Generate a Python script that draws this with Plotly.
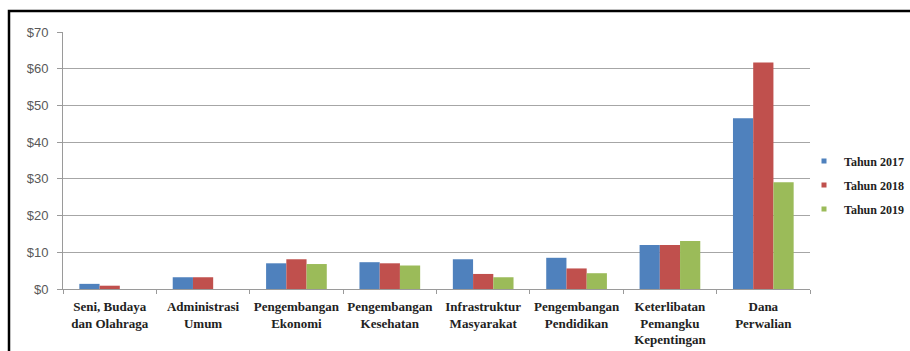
import plotly.graph_objects as go

categories = ["Seni, Budaya<br>dan Olahraga", "Administrasi<br>Umum", "Pengembangan<br>Ekonomi",
              "Pengembangan<br>Kesehatan", "Infrastruktur<br>Masyarakat", "Pengembangan<br>Pendidikan",
              "Keterlibatan<br>Pemangku<br>Kepentingan", "Dana<br>Perwalian"]
tahun_2017 = [1.4, 3.2, 7.0, 7.3, 8.1, 8.5, 12.0, 46.5]
tahun_2018 = [0.9, 3.2, 8.1, 7.0, 4.1, 5.6, 12.0, 61.7]
tahun_2019 = [None, None, 6.8, 6.4, 3.2, 4.3, 13.1, 29.1]
series_names = ["Tahun 2017", "Tahun 2018", "Tahun 2019"]
colors = ["#4F81BD", "#C0504D", "#9BBB59"]
y_ticks = [0, 10, 20, 30, 40, 50, 60, 70]
y_labels = ["$0", "$10", "$20", "$30", "$40", "$50", "$60", "$70"]

fig = go.Figure()
for name, vals, col in zip(series_names, [tahun_2017, tahun_2018, tahun_2019], colors):
    fig.add_trace(go.Bar(x=categories, y=vals, name=name, marker_color=col,
                         marker_line_width=0, showlegend=False))
for name, col in zip(series_names, colors):
    fig.add_trace(go.Scatter(x=[None], y=[None], mode="markers", name=name,
                             marker=dict(symbol="square", size=5, color=col),
                             legendgroup=name, showlegend=True))

W, H = 910, 351
L, R, T, B = 63, 100, 32, 62
pw, ph = W - L - R, H - T - B

def px(x):
    return (x - L) / pw

def py(y):
    return (H - B - y) / ph

frame_path = "M {x0} {y0} L {x0} {y1} L {x2} {y1}".format(
    x0=px(9), y0=py(351), y1=py(11), x2=px(910))

fig.update_layout(
    width=W, height=H,
    margin=dict(l=L, r=R, t=T, b=B, autoexpand=False),
    paper_bgcolor="white", plot_bgcolor="white",
    barmode="group", bargap=0.35, bargroupgap=0,
    showlegend=True,
    legend=dict(x=px(804), y=py(185), xanchor="left", yanchor="middle",
                font=dict(family="Liberation Serif", size=12, color="#222222", weight="bold"),
                tracegroupgap=5, itemwidth=30, bgcolor="rgba(0,0,0,0)"),
    xaxis=dict(tickfont=dict(family="Liberation Serif", size=13, color="#222222", weight="bold"),
               showline=True, linecolor="#9a9a9a", linewidth=1,
               ticks="outside", tickson="boundaries", ticklen=4, tickcolor="#9a9a9a",
               ticklabelstandoff=5, showgrid=False, tickangle=0),
    yaxis=dict(range=[0, 70], tickvals=y_ticks, ticktext=y_labels,
               tickfont=dict(family="Liberation Sans", size=13, color="#595959"),
               showgrid=True, gridcolor="#a6a6a6", gridwidth=1,
               showline=True, linecolor="#9a9a9a", linewidth=1,
               ticks="outside", ticklen=5, tickcolor="#9a9a9a",
               ticklabelstandoff=6, zeroline=False),
    shapes=[dict(type="path", xref="paper", yref="paper", path=frame_path,
                 line=dict(color="black", width=2.5))],
)

fig.write_html("out.html",
               post_script="document.documentElement.style.overflow='hidden';"
                           "document.body.style.overflow='hidden';"
                           "document.body.style.margin='0';")
